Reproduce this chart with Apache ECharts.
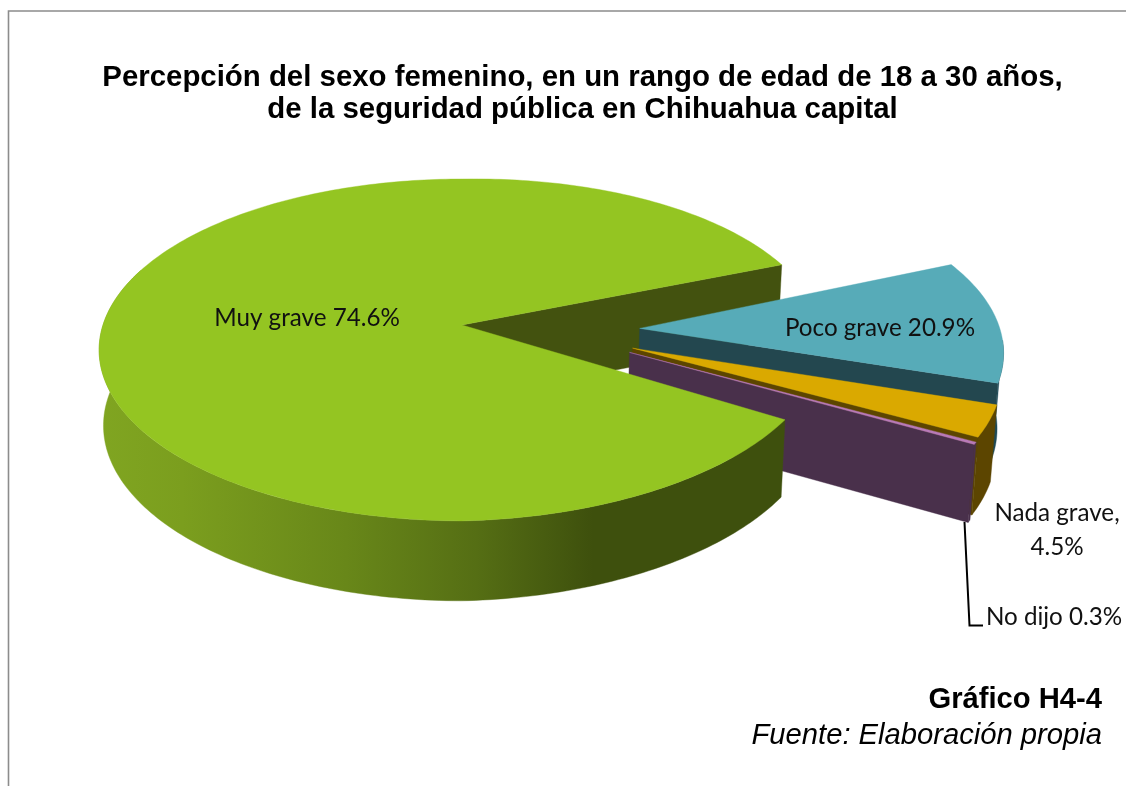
<!DOCTYPE html>
<html>
<head>
<meta charset="utf-8">
<style>html,body{margin:0;padding:0;background:#fff}#c{width:1126px;height:786px}</style>
<script src="https://cdn.jsdelivr.net/npm/echarts@6/dist/echarts.min.js"></script>
</head>
<body>
<div id="c"></div>
<script>
const categories = ['Muy grave', 'Poco grave', 'Nada grave', 'No dijo'];
const values = [74.6, 20.9, 4.5, 0.3];
const labelTemplates = ['{n} {v}%', '{n} {v}%', '{n},\n{v}%', '{n} {v}%'];
const titleLines = ['Percepción del sexo femenino, en un rango de edad de 18 a 30 años,', 'de la seguridad pública en Chihuahua capital'];
const figureName = 'Gráfico H4-4';
const sourceNote = 'Fuente: Elaboración propia';

// Appearance of each slice
const topColors = ['#94C522', '#57ABB8', '#DAA900', '#B87AB8'];
const rimColors = [null, '#1E4A57', '#5C4500', '#49304B'];
const cutColors = ['#43520F', '#23474F', '#5C4500', '#49304B'];
const labelPos = [[307, 318], [880, 328], [1057, 530], [1054, 617]];

// Projection of the tilted disk onto the page
const CX = 462, CY = 325, RX = 359, RY = 167.3, PERSP = 0.146;
const WARP = 0.48, WARP_AT = -10, PHI_OFFSET = 7.9;
const EXPLODED_PHI_SHIFT = -1, MAIN_START_SHIFT = 1;
const RIM_PINCH_MAIN = 0.02, RIM_PINCH_EXPLODED = 0.037;
const BOTTOM_SX = 0.988, BOTTOM_SY = 1.025, BOTTOM_C = 66.9;
const DEG = Math.PI / 180;

const total = values.reduce((a, b) => a + b, 0);
function sliceRange(i) {
  // Slices run clockwise; the three small slices are centred round the right side.
  const rest = (total - values[0]) / total;
  const first = -rest * 180;
  if (i === 0) return [first + rest * 360, first + 360];
  let acc = first;
  for (let k = 1; k < i; k++) acc += values[k] / total * 360;
  return [acc, acc + values[i] / total * 360];
}
function phi(theta) {
  return theta - WARP * Math.sin((theta - WARP_AT) * DEG) / DEG + PHI_OFFSET;
}
function project(u, v) {
  const w = 1 - PERSP * v;
  return [CX + RX * u / w, CY + RY * v / w];
}
function lower(p) {
  return [CX + (p[0] - CX) * BOTTOM_SX, p[1] * BOTTOM_SY + BOTTOM_C];
}
function arc(off, a, b, pinch) {
  const n = Math.max(2, Math.ceil(Math.abs(b - a)));
  const pts = [];
  for (let j = 0; j <= n; j++) {
    const t = (a + (b - a) * j / n) * DEG;
    const scale = 1 - (Math.cos(t) > 0 ? pinch * Math.sin(2 * t) : 0);
    pts.push(project(off[0] + scale * Math.cos(t), off[1] + scale * Math.sin(t)));
  }
  return pts;
}
function poly(points, fill, z2) {
  return { type: 'polygon', z2: z2, silent: true, shape: { points: points },
           style: { fill: fill, stroke: fill, lineWidth: 0.4 } };
}
const greenWall = new echarts.graphic.LinearGradient(100, 0, 785, 0, [
  { offset: 0, color: '#80A521' }, { offset: 0.12, color: '#7B9E1E' },
  { offset: 0.36, color: '#688719' }, { offset: 0.55, color: '#556E14' },
  { offset: 0.72, color: '#3E500D' }, { offset: 1, color: '#3E500D' }
], true);

function renderItem(params, api) {
  const i = params.dataIndex;
  const r = sliceRange(i);
  const val = api.value(0);
  const isMain = i === 0;
  const shift = isMain ? 0 : EXPLODED_PHI_SHIFT;
  const a0 = phi(r[0]) + shift + (isMain ? MAIN_START_SHIFT : 0), a1 = phi(r[1]) + shift;
  const children = [];
  let off = [0, 0];
  const pinch = isMain ? RIM_PINCH_MAIN : RIM_PINCH_EXPLODED;
  if (!isMain) {
    const dirDeg = 0.53 * (a0 + a1 + 2) / 2 + 3;
    const reach = 0.4955 - 0.00065 * dirDeg;
    off = [reach * Math.cos(dirDeg * DEG), reach * Math.sin(dirDeg * DEG)];
  }
  const apex = project(off[0], off[1]);
  const top = arc(off, a0, a1, pinch);
  const base = 10 + i * 10;
  if (isMain) {
    // forward-facing cut wall sits behind the exploded slices
    const e = top[top.length - 1];
    children.push(poly([apex, e, lower(e), lower(apex)], cutColors[0], 1));
    const front = arc(off, a0, 200, pinch);
    children.push(poly(front.concat(front.map(lower).reverse()), greenWall, 50));
    children.push(poly([apex].concat(top), topColors[0], 51));
  } else {
    const e = top[top.length - 1];
    children.push(poly([apex, e, lower(e), lower(apex)], cutColors[i], base));
    const rim = arc(off, Math.max(a0, 4), a1, pinch);
    children.push(poly(rim.concat(rim.map(lower).reverse()), rimColors[i], base + 1));
    children.push(poly([apex].concat(top), topColors[i], base + 2));
  }
  const text = labelTemplates[i].replace('{n}', categories[i]).replace('{v}', val.toFixed(1));
  children.push({
    type: 'text', z2: 60, silent: true, x: labelPos[i][0], y: labelPos[i][1],
    style: { text: text, fill: '#111', font: '24.2px Lato', align: 'center', verticalAlign: 'middle', lineHeight: 34 }
  });
  return { type: 'group', children: children };
}

const chart = echarts.init(document.getElementById('c'), null, { renderer: 'canvas' });
chart.setOption({
  animation: false,
  backgroundColor: '#fff',
  title: {
    text: titleLines.join('\n'), left: 577.5, top: 57, textAlign: 'center',
    textStyle: { fontFamily: 'Liberation Sans', fontWeight: 'bold', fontSize: 29.4, color: '#000', lineHeight: 32 }
  },
  graphic: [
    { type: 'polyline', silent: true, shape: { points: [[8.5, 786], [8.5, 11], [1126, 11]] },
      style: { fill: null, stroke: '#8C8C8C', lineWidth: 1.6 } },
    { type: 'polyline', silent: true, z: 5, shape: { points: [[964.5, 522], [969.5, 625.5], [983, 625.5]] },
      style: { fill: null, stroke: '#000', lineWidth: 2 } },
    { type: 'text', silent: true, x: 1102, y: 700,
      style: { text: figureName, font: 'bold 29.2px "Liberation Sans"', fill: '#000', align: 'right', verticalAlign: 'middle' } },
    { type: 'text', silent: true, x: 1102, y: 736,
      style: { text: sourceNote, font: 'italic 29.2px "Liberation Sans"', fill: '#000', align: 'right', verticalAlign: 'middle' } }
  ],
  series: [{
    type: 'custom', coordinateSystem: 'none', renderItem: renderItem,
    data: values.map((v, i) => ({ name: categories[i], value: [v] })),
    silent: true
  }]
});
</script>
</body>
</html>
